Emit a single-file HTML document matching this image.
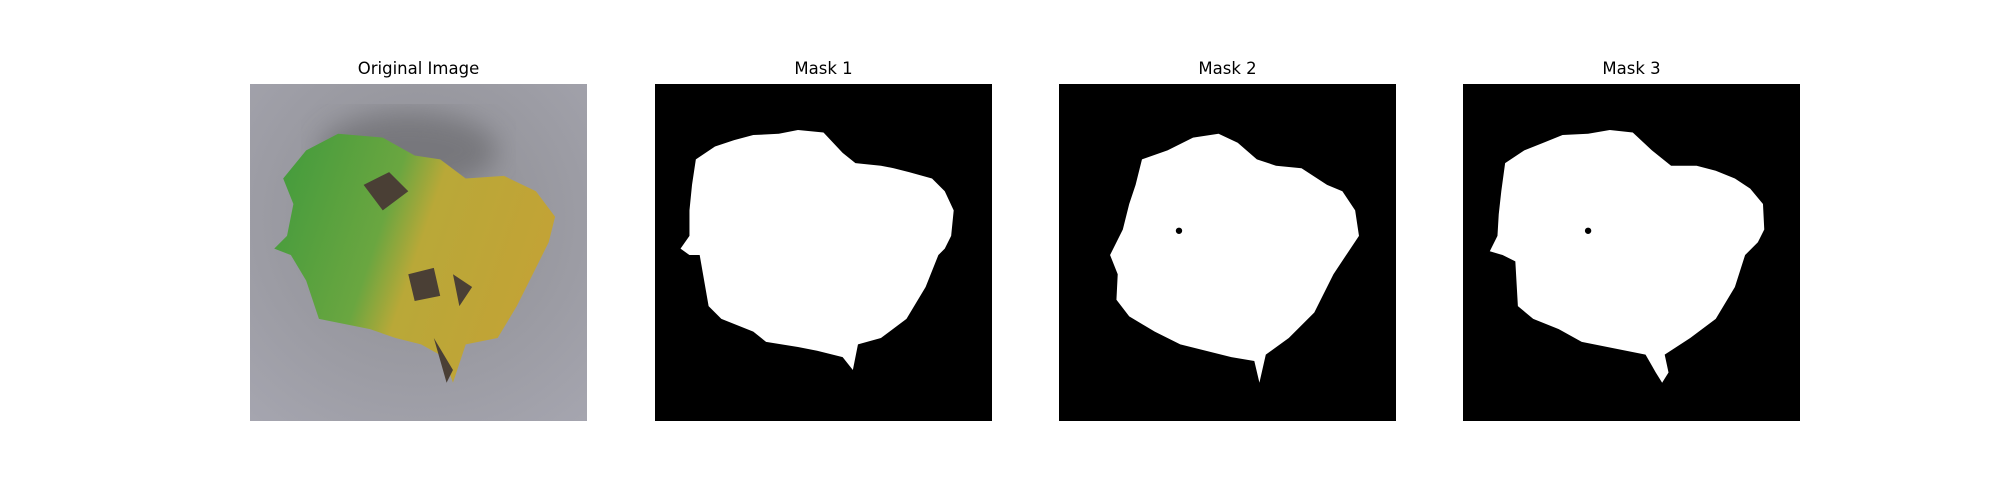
<!DOCTYPE html>
<html><head><meta charset="utf-8"><style>
html,body{margin:0;padding:0;background:#fff;width:2000px;height:500px;overflow:hidden;font-family:"DejaVu Sans","Liberation Sans",sans-serif}
.panel{position:absolute;top:84px;width:337px;height:337px}
.title{position:absolute;top:59px;width:337px;text-align:center;font-size:16.5px;color:#000}
svg{display:block}
</style></head><body>
<div class="title" style="left:250px">Original Image</div>
<div class="title" style="left:655px">Mask 1</div>
<div class="title" style="left:1059px">Mask 2</div>
<div class="title" style="left:1463px">Mask 3</div>

<div class="panel" style="left:250px">
<svg width="337" height="337" viewBox="196 66 264 264" preserveAspectRatio="none">
<defs>
<radialGradient id="bg" cx="0.5" cy="0.4" r="0.8"><stop offset="0" stop-color="#8d8d92"/><stop offset="1" stop-color="#a6a6b0"/></radialGradient>
<linearGradient id="lf" x1="0" y1="0" x2="1" y2="0.3"><stop offset="0" stop-color="#3f9a3c"/><stop offset="0.45" stop-color="#6aa640"/><stop offset="0.6" stop-color="#b9a838"/><stop offset="1" stop-color="#c2a336"/></linearGradient>
<filter id="bl"><feGaussianBlur stdDeviation="10"/></filter>
</defs>
<rect x="196" y="66" width="264" height="264" fill="url(#bg)"/>
<ellipse cx="320" cy="118" rx="70" ry="30" fill="#5c5c5e" opacity="0.5" filter="url(#bl)"/>
<path d="M215,195 L225,185 L230,160 L222,140 L240,118 L265,105 L300,108 L325,122 L345,125 L365,140 L395,138 L420,150 L435,170 L430,190 L420,210 L405,240 L390,265 L365,270 L355,300 L348,280 L330,270 L310,265 L290,258 L250,250 L240,220 L228,200 Z" fill="url(#lf)"/>
<path d="M285,145 L305,135 L320,150 L300,165 Z M320,215 L340,210 L345,232 L325,236 Z M355,215 L370,225 L360,240 Z M340,265 L355,290 L350,300 Z" fill="#4a3f35"/>
</svg></div>

<div class="panel" style="left:655px;background:#000">
<svg width="337" height="337" viewBox="513 66 264 264" preserveAspectRatio="none">
<path fill="#fff" d="M540,185 L533,195 L540,200 L548,200 L555,240 L565,250 L590,260 L600,268 L625,272 L640,275 L660,280 L668,290 L672,270 L690,265 L710,250 L725,225 L735,200 L740,195 L745,185 L747,165 L740,150 L730,140 L712,135 L700,132 L690,130 L670,128 L660,120 L645,104 L625,102 L610,105 L590,106 L575,110 L560,115 L545,125 L542,145 L540,165 Z"/>
</svg></div>

<div class="panel" style="left:1059px;background:#000">
<svg width="337" height="337" viewBox="830 66 264 264" preserveAspectRatio="none">
<path fill="#fff" d="M870,200 L876,215 L875,235 L885,248 L905,260 L925,270 L945,275 L965,280 L983,283 L987,300 L992,278 L1010,265 L1030,245 L1045,215 L1055,200 L1065,185 L1062,165 L1052,150 L1040,145 L1020,132 L1000,130 L985,125 L970,112 L955,105 L935,108 L915,118 L895,125 L890,145 L885,160 L880,180 Z"/>
<circle cx="924" cy="181" r="2.5" fill="#000"/>
</svg></div>

<div class="panel" style="left:1463px;background:#000">
<svg width="337" height="337" viewBox="1147 66 264 264" preserveAspectRatio="none">
<path fill="#fff" d="M1174,185 L1168,197 L1178,200 L1188,205 L1190,240 L1202,250 L1222,258 L1240,268 L1265,273 L1290,278 L1298,292 L1303,300 L1308,292 L1305,278 L1325,265 L1345,250 L1360,225 L1368,200 L1378,190 L1383,180 L1382,160 L1372,148 L1360,140 L1345,134 L1330,130 L1310,130 L1295,118 L1280,104 L1262,102 L1245,105 L1225,106 L1210,112 L1195,118 L1180,128 L1177,150 L1175,168 Z"/>
<circle cx="1245" cy="181" r="2.5" fill="#000"/>
</svg></div>
</body></html>
